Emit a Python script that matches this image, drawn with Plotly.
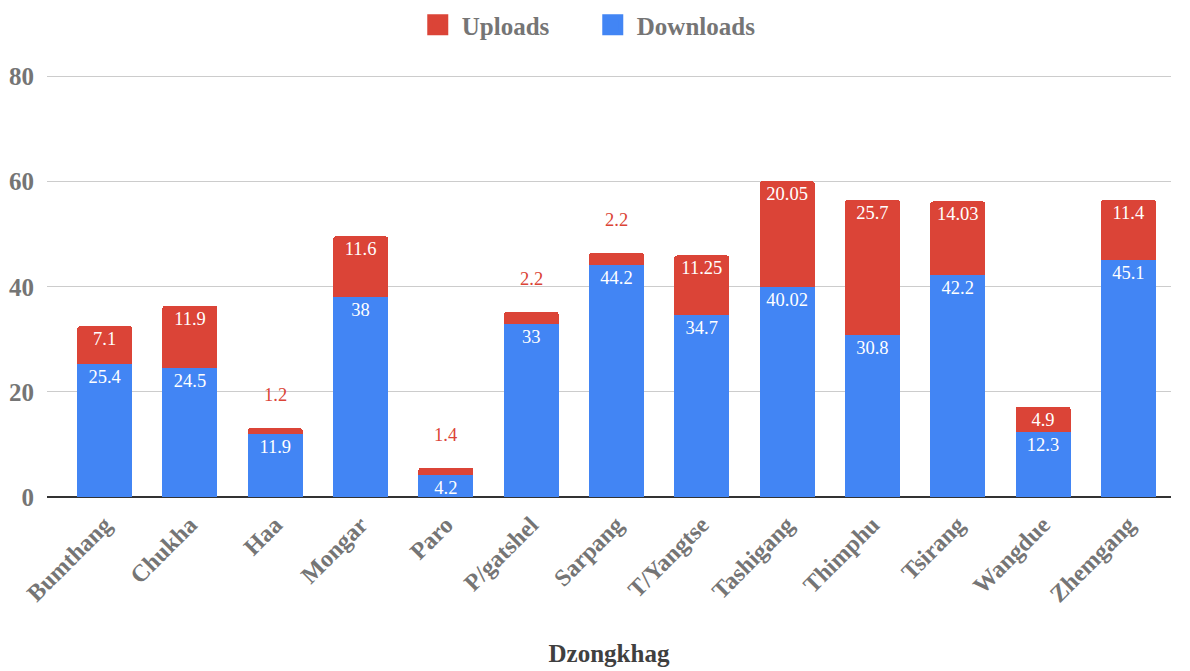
import plotly.graph_objects as go

categories = ["Bumthang", "Chukha", "Haa", "Mongar", "Paro", "P/gatshel", "Sarpang",
              "T/Yangtse", "Tashigang", "Thimphu", "Tsirang", "Wangdue", "Zhemgang"]
downloads = [25.4, 24.5, 11.9, 38, 4.2, 33, 44.2, 34.7, 40.02, 30.8, 42.2, 12.3, 45.1]
uploads = [7.1, 11.9, 1.2, 11.6, 1.4, 2.2, 2.2, 11.25, 20.05, 25.7, 14.03, 4.9, 11.4]
y_ticks = [0, 20, 40, 60, 80]

RED = "#DB4437"
BLUE = "#4285F4"
SERIF = "Liberation Serif, Times New Roman, serif"

small = [u < 3 for u in uploads]
up_text = ["" if s else f"{u:g}" for u, s in zip(uploads, small)]

fig = go.Figure()
fig.add_trace(go.Bar(
    x=categories, y=downloads, name="Downloads", showlegend=False,
    marker=dict(color=BLUE, line=dict(width=0)),
    text=[f"{d:g}" for d in downloads], textposition="inside",
    insidetextanchor="end", constraintext="none",
    textfont=dict(family=SERIF, size=18.5, color="white"),
    hoverinfo="x+y",
))
fig.add_trace(go.Bar(
    x=categories, y=uploads, name="Uploads", showlegend=False,
    marker=dict(color=RED, line=dict(width=0)),
    text=up_text, textposition="inside",
    insidetextanchor="end", constraintext="none",
    textfont=dict(family=SERIF, size=18.5, color="white"),
    hoverinfo="x+y",
))
# legend entries with larger square swatches
for name, col in [("Uploads", RED), ("Downloads", BLUE)]:
    fig.add_trace(go.Scatter(
        x=[None], y=[None], mode="markers", name=name,
        marker=dict(symbol="square", size=20, color=col, line=dict(color=col, width=5)),
    ))

for c, d, u, s in zip(categories, downloads, uploads, small):
    if s:
        fig.add_annotation(x=c, y=d + u, text=f"{u:g}", showarrow=False,
                           yshift=33, font=dict(family=SERIF, size=18.5, color=RED))

fig.update_layout(
    width=1190, height=671,
    barmode="stack", bargap=0.355, barcornerradius=3,
    plot_bgcolor="white", paper_bgcolor="white",
    margin=dict(l=39, r=27, t=57.5, b=182),
    legend=dict(orientation="h", x=0.482, xanchor="center",
                yref="container", y=1 - 17 / 671, yanchor="middle",
                traceorder="normal", itemsizing="trace",
                font=dict(family=SERIF, size=25, color="#757575", weight="bold"),
                itemwidth=38, entrywidth=122),
    xaxis=dict(
        range=[-0.676, 12.5], tickangle=-45, showgrid=False, automargin=False,
        tickfont=dict(family=SERIF, size=24, color="#757575", weight="bold"),
        ticklabelstandoff=8,
        title=dict(text="Dzongkhag", standoff=38,
                   font=dict(family=SERIF, size=25, color="#404040", weight="bold")),
        showline=False, ticks="",
    ),
    yaxis=dict(
        range=[0, 82], tickvals=y_ticks, showgrid=True, gridcolor="#cccccc", gridwidth=1,
        zeroline=True, zerolinecolor="#333333", zerolinewidth=2, automargin=False,
        tickfont=dict(family=SERIF, size=25, color="#757575", weight="bold"),
        ticklabelstandoff=12, ticks="",
    ),
)

fig.write_html("out.html")
